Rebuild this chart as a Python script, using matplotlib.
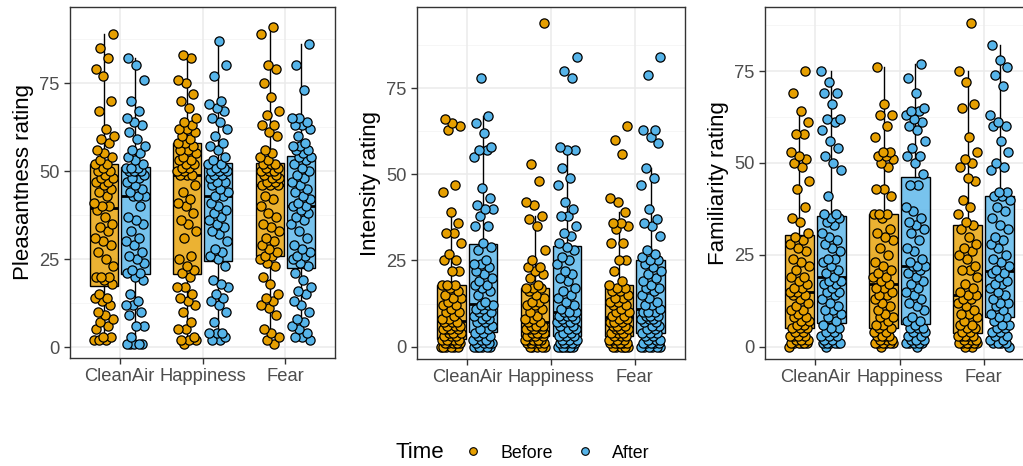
import numpy as np
import matplotlib
matplotlib.use("Agg")
import matplotlib.pyplot as plt
from matplotlib.lines import Line2D
from matplotlib.colors import to_rgba

plt.rcParams["font.family"] = ["Liberation Sans", "DejaVu Sans"]

conditions = ["CleanAir", "Happiness", "Fear"]
times = ["Before", "After"]
time_colors = {"Before": "#E69F00", "After": "#56B4E9"}

# ---- Pleasantness ratings ----
pleas_clean_before = [2, 2, 2, 3, 3, 5, 6, 7, 8, 9, 10, 12, 13, 14, 14, 15,
                      18, 19, 20, 20, 20, 23, 25, 27, 29, 30, 31, 33, 34, 35, 37, 39,
                      40, 40, 41, 43, 44, 45, 46, 47, 47, 48, 48, 49, 50, 50, 51, 52,
                      52, 53, 54, 55, 56, 58, 59, 60, 62, 67, 70, 77, 79, 82, 85, 89]
pleas_clean_after = [1, 1, 1, 1, 1, 3, 6, 6, 9, 10, 12, 12, 13, 15, 19, 20,
                     21, 21, 22, 24, 25, 26, 27, 29, 30, 31, 33, 35, 36, 37, 40, 43,
                     43, 43, 44, 45, 46, 47, 48, 48, 49, 50, 50, 50, 50, 51, 51, 51,
                     52, 53, 54, 55, 56, 57, 59, 61, 63, 64, 65, 67, 70, 76, 80, 82]
pleas_happy_before = [1, 2, 2, 2, 3, 5, 5, 7, 10, 12, 13, 14, 15, 17, 17, 20,
                      21, 22, 23, 25, 26, 31, 33, 35, 36, 38, 40, 41, 42, 44, 46, 49,
                      49, 49, 50, 50, 51, 51, 52, 52, 53, 53, 54, 55, 56, 56, 57, 58,
                      58, 59, 60, 61, 62, 62, 63, 64, 65, 68, 70, 72, 75, 76, 82, 83]
pleas_happy_after = [2, 2, 3, 4, 4, 4, 7, 10, 12, 13, 14, 15, 17, 18, 19, 23,
                     25, 26, 27, 28, 30, 32, 33, 34, 35, 36, 37, 38, 39, 40, 41, 43,
                     43, 44, 45, 46, 47, 47, 48, 49, 49, 50, 50, 50, 51, 51, 52, 52,
                     53, 54, 56, 57, 58, 60, 62, 64, 65, 67, 68, 69, 70, 77, 80, 87]
pleas_fear_before = [1, 2, 3, 4, 5, 9, 11, 12, 13, 14, 15, 18, 20, 23, 24, 25,
                     26, 26, 27, 28, 29, 30, 31, 33, 34, 35, 37, 38, 40, 42, 43, 46,
                     46, 46, 47, 47, 48, 48, 49, 49, 50, 50, 50, 51, 51, 52, 52, 52,
                     53, 54, 55, 56, 60, 61, 63, 63, 66, 67, 71, 75, 79, 80, 89, 91]
pleas_fear_after = [2, 3, 3, 4, 5, 6, 7, 8, 10, 12, 13, 15, 16, 17, 19, 21,
                    23, 24, 25, 26, 26, 27, 28, 29, 31, 33, 35, 36, 37, 38, 39, 40,
                    40, 41, 42, 43, 44, 45, 46, 47, 48, 49, 50, 51, 52, 53, 54, 54,
                    55, 56, 56, 57, 57, 58, 60, 62, 63, 63, 64, 65, 65, 73, 80, 86]

# ---- Intensity ratings ----
inten_clean_before = [0, 0, 0, 0, 0, 0, 1, 1, 1, 1, 1, 1, 2, 2, 2, 2,
                      2, 3, 3, 3, 4, 4, 4, 5, 5, 5, 5, 6, 6, 6, 7, 7,
                      7, 8, 8, 9, 10, 10, 11, 12, 12, 13, 14, 14, 15, 16, 17, 18,
                      18, 18, 22, 22, 25, 25, 27, 30, 33, 33, 36, 39, 45, 47, 63, 64, 65, 66]
inten_clean_after = [0, 0, 0, 0, 0, 0, 1, 1, 1, 1, 2, 2, 2, 3, 3, 4,
                     4, 5, 5, 6, 7, 7, 8, 8, 9, 9, 10, 10, 11, 11, 12, 12,
                     12, 13, 15, 16, 17, 18, 18, 19, 20, 21, 22, 23, 24, 24, 25, 28,
                     29, 30, 35, 35, 38, 40, 40, 41, 43, 46, 55, 57, 57, 58, 62, 65, 67, 78]
inten_happy_before = [0, 0, 0, 0, 0, 1, 1, 1, 1, 1, 2, 2, 2, 2, 2, 2,
                      3, 3, 3, 3, 4, 4, 4, 4, 5, 5, 5, 5, 6, 6, 6, 6,
                      7, 7, 8, 8, 9, 10, 11, 12, 12, 13, 13, 14, 15, 16, 17, 17,
                      17, 18, 20, 21, 22, 23, 23, 25, 28, 35, 37, 38, 41, 42, 48, 53, 94]
inten_happy_after = [0, 0, 0, 0, 0, 0, 0, 1, 1, 1, 1, 1, 2, 2, 2, 3, 3, 3,
                     4, 4, 5, 5, 6, 6, 7, 7, 7, 8, 8, 9, 9, 9, 10, 10,
                     10, 11, 12, 13, 14, 15, 16, 17, 19, 20, 21, 22, 24, 25, 26, 28,
                     29, 30, 32, 33, 35, 38, 38, 40, 42, 47, 49, 52, 57, 57, 58, 78, 80, 84]
inten_fear_before = [0, 0, 0, 0, 0, 0, 1, 1, 1, 1, 1, 1, 2, 2, 2, 2,
                     3, 3, 3, 4, 4, 4, 5, 5, 5, 6, 6, 6, 7, 7, 7, 8,
                     8, 9, 9, 10, 10, 11, 12, 12, 13, 13, 14, 14, 15, 16, 16, 17,
                     17, 18, 19, 22, 25, 25, 30, 30, 34, 35, 36, 36, 39, 42, 43, 56, 60, 64]
inten_fear_after = [0, 0, 0, 0, 0, 0, 1, 1, 1, 1, 1, 2, 2, 2, 3, 3, 4, 4,
                    4, 5, 5, 6, 6, 7, 7, 8, 8, 8, 9, 9, 9, 10, 10, 10,
                    11, 12, 12, 13, 14, 15, 16, 17, 17, 18, 19, 20, 21, 22, 23, 24,
                    25, 25, 26, 27, 28, 32, 35, 36, 37, 40, 47, 49, 52, 59, 61, 63, 63, 79, 84]

# ---- Familiarity ratings ----
famil_clean_before = [0, 1, 1, 1, 1, 1, 1, 2, 2, 2, 3, 3, 3, 3, 4, 4, 5, 5,
                      5, 6, 6, 7, 7, 8, 8, 9, 10, 10, 11, 12, 13, 14, 14, 15,
                      15, 16, 16, 17, 18, 19, 19, 21, 22, 23, 24, 26, 27, 28, 29, 30,
                      31, 34, 35, 38, 43, 45, 49, 50, 51, 52, 53, 58, 58, 61, 64, 69, 75]
famil_clean_after = [0, 1, 1, 1, 1, 1, 1, 2, 2, 3, 3, 3, 4, 4, 5, 5,
                     6, 7, 8, 9, 10, 10, 11, 12, 13, 14, 15, 15, 16, 17, 17, 18,
                     18, 19, 20, 21, 22, 23, 24, 24, 26, 27, 28, 29, 30, 31, 33, 34,
                     35, 35, 36, 36, 41, 48, 50, 52, 54, 56, 59, 61, 62, 62, 66, 69, 69, 72, 75]
famil_happy_before = [0, 1, 1, 1, 1, 1, 1, 2, 2, 2, 3, 3, 3, 3, 4, 4,
                      5, 5, 6, 6, 7, 8, 8, 9, 10, 11, 12, 13, 14, 14, 15, 16,
                      16, 17, 18, 19, 19, 20, 21, 22, 23, 25, 27, 29, 30, 31, 32, 35,
                      36, 36, 36, 41, 43, 43, 49, 50, 51, 52, 52, 53, 53, 57, 60, 63, 63, 66, 76]
famil_happy_after = [0, 1, 1, 1, 1, 1, 2, 2, 2, 3, 3, 4, 4, 5, 5, 5,
                     6, 7, 7, 8, 10, 11, 12, 13, 14, 15, 16, 17, 18, 19, 20, 21,
                     22, 22, 22, 23, 24, 26, 27, 29, 31, 32, 33, 34, 35, 37, 38, 44,
                     44, 47, 50, 52, 52, 54, 56, 59, 60, 61, 62, 63, 64, 64, 65, 69, 73, 77]
famil_fear_before = [0, 0, 1, 1, 1, 1, 1, 1, 2, 2, 2, 3, 3, 3, 3, 3,
                     4, 4, 5, 5, 6, 6, 7, 8, 9, 9, 10, 11, 12, 13, 13, 14,
                     14, 15, 16, 17, 19, 21, 21, 22, 24, 25, 26, 27, 28, 30, 32, 33,
                     34, 36, 38, 40, 45, 46, 49, 50, 51, 53, 57, 65, 66, 72, 75, 88]
famil_fear_after = [0, 1, 1, 1, 1, 2, 2, 3, 3, 4, 4, 5, 5, 6, 6, 7,
                    8, 8, 9, 10, 11, 12, 12, 13, 14, 15, 16, 17, 17, 18, 19, 20,
                    20, 21, 22, 23, 24, 25, 27, 28, 29, 30, 32, 33, 35, 37, 38, 40,
                    41, 41, 42, 42, 48, 49, 50, 53, 56, 60, 60, 61, 63, 71, 74, 76, 78, 82]

y_ticks = [0, 25, 50, 75]

panels = [
    ("Pleasantness rating",
     {"CleanAir": (pleas_clean_before, pleas_clean_after),
      "Happiness": (pleas_happy_before, pleas_happy_after),
      "Fear": (pleas_fear_before, pleas_fear_after)},
     (-3.1, 96.6)),
    ("Intensity rating",
     {"CleanAir": (inten_clean_before, inten_clean_after),
      "Happiness": (inten_happy_before, inten_happy_after),
      "Fear": (inten_fear_before, inten_fear_after)},
     (-3.6, 98.6)),
    ("Familiarity rating",
     {"CleanAir": (famil_clean_before, famil_clean_after),
      "Happiness": (famil_happy_before, famil_happy_after),
      "Fear": (famil_fear_before, famil_fear_after)},
     (-3.3, 92.4)),
]

axes_rects = [
    [70 / 1023, 1 - 358 / 466, 265 / 1023, 351 / 466],
    [417 / 1023, 1 - 359 / 466, 268 / 1023, 352 / 466],
    [765 / 1023, 1 - 359 / 466, 269 / 1023, 352 / 466],
]

dodge = 0.19
box_w = 0.34
jitter_w = 0.12
golden = 0.6180339887

fig = plt.figure(figsize=(10.23, 4.66), dpi=100)

for (ylabel, groups, ylim), rect in zip(panels, axes_rects):
    ax = fig.add_axes(rect)
    ax.set_facecolor("white")
    ax.set_xlim(0.4, 3.6)
    ax.set_ylim(*ylim)

    # background grid
    for v in [12.5, 37.5, 62.5, 87.5]:
        ax.axhline(v, color="#F5F5F5", lw=0.6, zorder=0)
    for v in y_ticks:
        ax.axhline(v, color="#EBEBEB", lw=1.1, zorder=0)
    for c in range(1, 4):
        ax.axvline(c, color="#EBEBEB", lw=1.1, zorder=0)

    for ci, cond in enumerate(conditions):
        for ti, t in enumerate(times):
            vals = np.asarray(groups[cond][ti], dtype=float)
            pos = ci + 1 + (-dodge if ti == 0 else dodge)
            bp = ax.boxplot(vals, positions=[pos], widths=box_w, whis=1.5,
                            showfliers=False, patch_artist=True, showcaps=False,
                            manage_ticks=False, zorder=2)
            for b in bp["boxes"]:
                b.set_facecolor(to_rgba(time_colors[t], 0.8))
                b.set_edgecolor("black")
                b.set_linewidth(1.0)
            for w in bp["whiskers"]:
                w.set_color("black")
                w.set_linewidth(1.0)
            for m in bp["medians"]:
                m.set_color("black")
                m.set_linewidth(2.0)
            n = len(vals)
            offs = (((np.arange(n) * golden + 0.37 * ci + 0.21 * ti) % 1.0) - 0.5) * 2 * jitter_w
            ax.scatter(pos + offs, vals, s=44, color=time_colors[t],
                       edgecolor="black", linewidth=0.9, zorder=3)

    ax.set_xticks([1, 2, 3])
    ax.set_xticklabels(conditions)
    ax.set_yticks(y_ticks)
    ax.tick_params(axis="both", labelsize=13.2, labelcolor="#4D4D4D",
                   color="#333333", length=4, width=1.0, direction="out")
    ax.set_ylabel(ylabel, fontsize=16, color="black", labelpad=4)
    for s in ax.spines.values():
        s.set_color("#333333")
        s.set_linewidth(1.0)

# legend along the bottom
fig.text(420 / 1023, 1 - 453 / 466, "Time", fontsize=16, ha="center", va="center")
handles = [Line2D([], [], marker="o", ls="", ms=5.5, markerfacecolor=time_colors[t],
                  markeredgecolor="black", markeredgewidth=0.8, label=t) for t in times]
fig.legend(handles=handles, loc="center left", bbox_to_anchor=(455 / 1023, 1 - 453 / 466),
           ncol=2, frameon=False, fontsize=12.8, handletextpad=0.95, columnspacing=1.2,
           borderaxespad=0, handlelength=1.2)

fig.savefig("out.png", dpi=100, facecolor="white")
